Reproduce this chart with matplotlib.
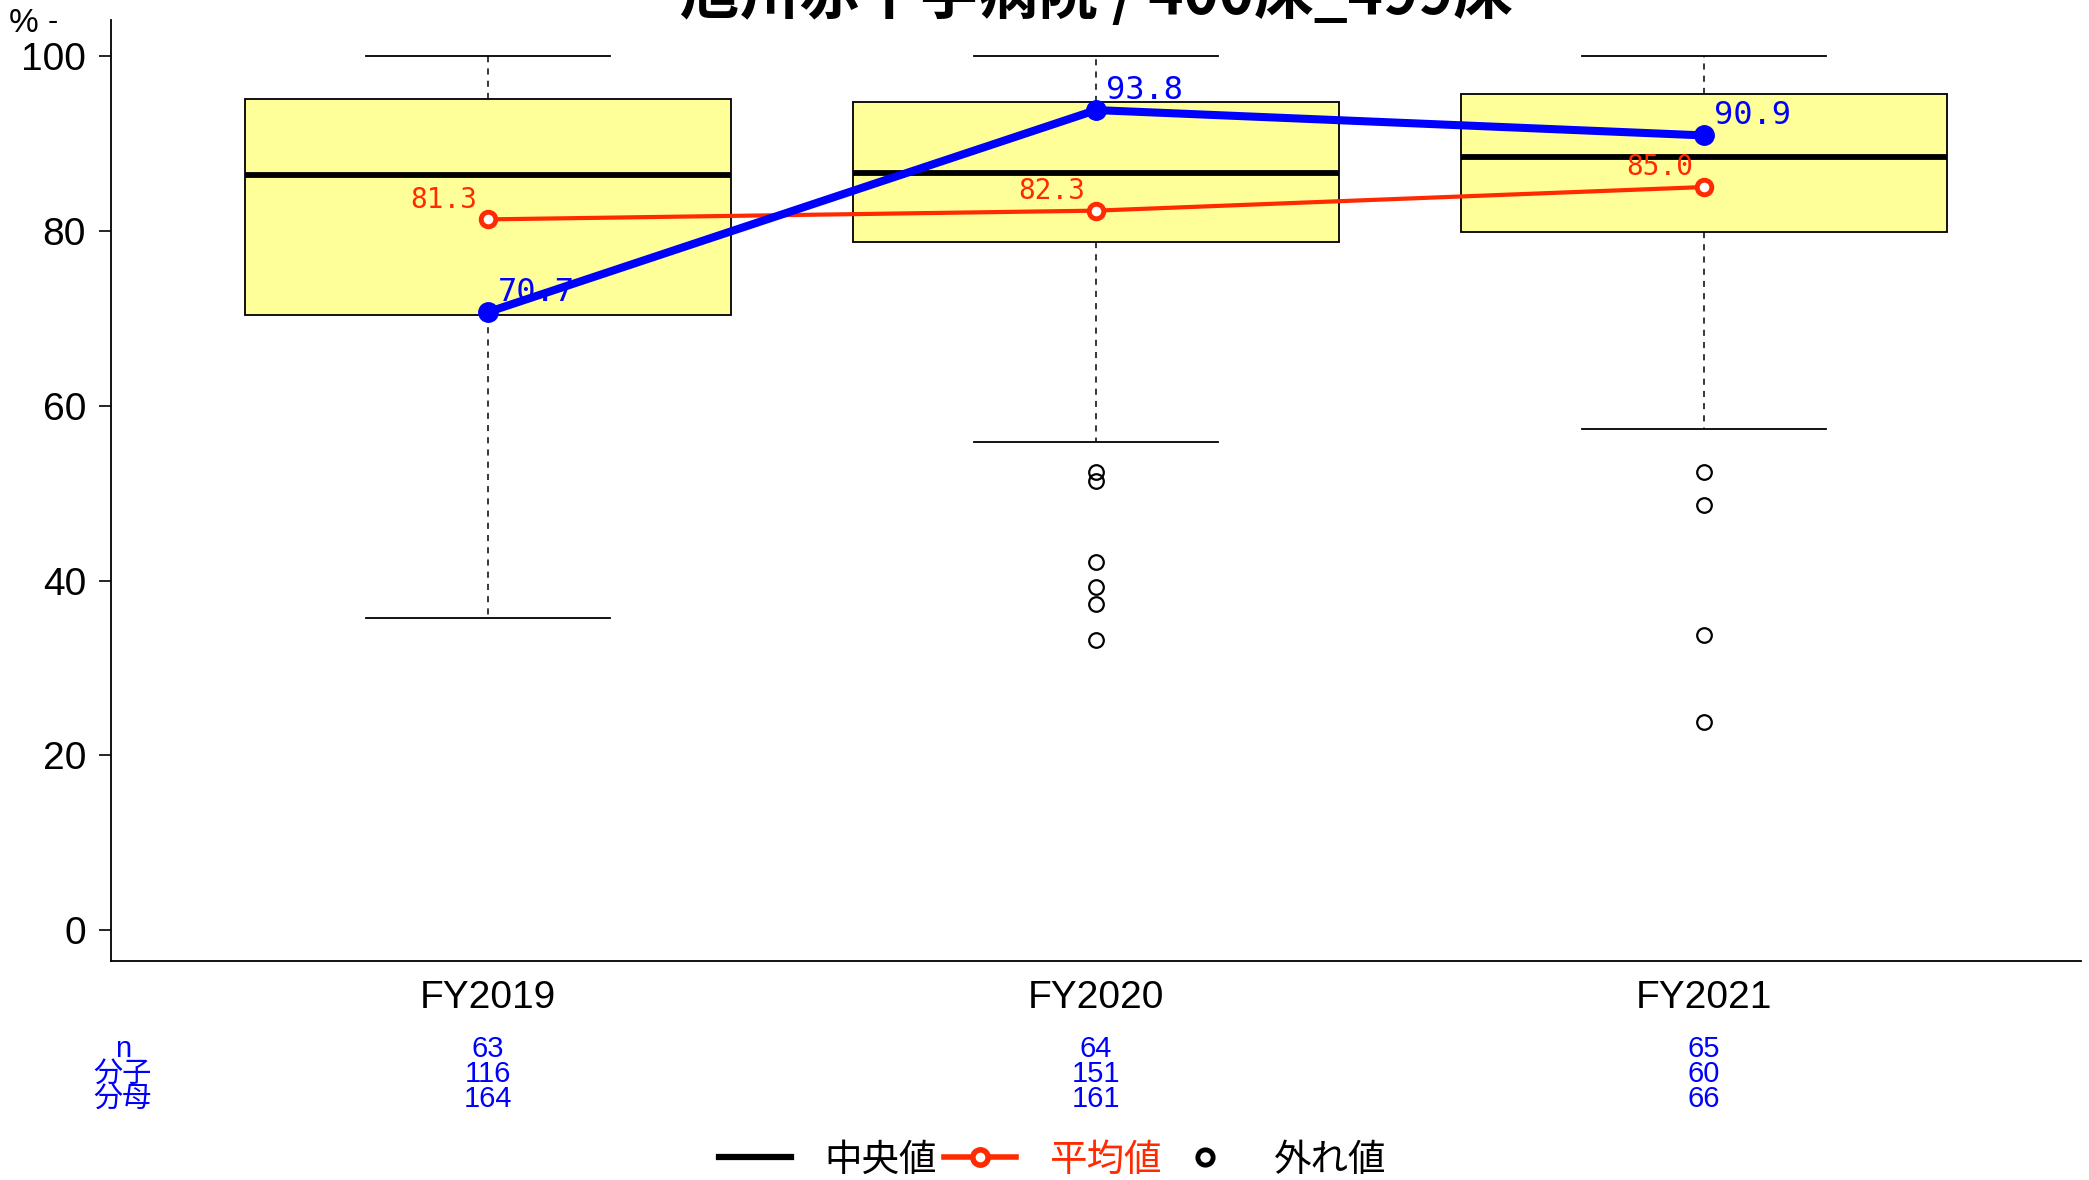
import matplotlib
matplotlib.use('Agg')
import matplotlib.pyplot as plt
from matplotlib.lines import Line2D
import matplotlib.transforms as mtransforms

plt.rcParams['font.family'] = ['Liberation Sans', 'Noto Sans CJK JP']

years = ['FY2019', 'FY2020', 'FY2021']
q1 = [70.4, 78.7, 79.9]
q3 = [95.1, 94.7, 95.6]
med = [86.4, 86.6, 88.4]
whislo = [35.7, 55.8, 57.3]
whishi = [100.0, 100.0, 100.0]
outliers = [[], [52.4, 51.4, 42.1, 39.3, 37.3, 33.2], [52.4, 48.6, 33.8, 23.8]]
mean_vals = [81.3, 82.3, 85.0]
hosp_vals = [70.7, 93.8, 90.9]
n_vals = [63, 64, 65]
numer = [116, 151, 60]
denom = [164, 161, 66]
row_labels = ['n', '分子', '分母']
title = '旭川赤十字病院 / 400床_499床'

red = '#FF2A00'
blue = '#0000FF'

fig = plt.figure(figsize=(20.89, 11.80), dpi=100)
ax = fig.add_axes([111/2089, 1-961/1180, 1970/2089, 941/1180])

pos = [1, 2, 3]
stats = []
for i in range(3):
    stats.append(dict(med=med[i], q1=q1[i], q3=q3[i], whislo=whislo[i],
                      whishi=whishi[i], fliers=outliers[i]))
ax.bxp(stats, positions=pos, widths=0.8, patch_artist=True, showfliers=True,
       boxprops=dict(facecolor='#FFFF99', edgecolor='black', linewidth=1.3),
       medianprops=dict(color='black', linewidth=4.2),
       whiskerprops=dict(color='black', linewidth=1.1, linestyle=(0, (4, 4))),
       capprops=dict(color='black', linewidth=1.3),
       capwidths=0.4,
       flierprops=dict(marker='o', markerfacecolor='none', markeredgecolor='black',
                       markersize=10.5, markeredgewidth=1.6))

# mean line
ax.plot(pos, mean_vals, color=red, linewidth=3, marker='o', markersize=10.5,
        markerfacecolor='white', markeredgecolor=red, markeredgewidth=3.5, zorder=5)
# hospital line
ax.plot(pos, hosp_vals, color=blue, linewidth=5.8, marker='o', markersize=14,
        zorder=6)

for x, v in zip(pos, mean_vals):
    ax.annotate(f'{v:.1f}', (x, v), xytext=(-8, 4), textcoords='offset points',
                ha='right', va='bottom', color=red, fontsize=20,
                family='DejaVu Sans Mono', zorder=7)
for x, v in zip(pos, hosp_vals):
    ax.annotate(f'{v:.1f}', (x, v), xytext=(7, 3), textcoords='offset points',
                ha='left', va='bottom', color=blue, fontsize=23,
                family='DejaVu Sans Mono', zorder=7)

ax.set_xlim(0.38, 3.62)
ax.set_ylim(-3.5, 104.1)
ax.set_xticks(pos)
ax.set_xticklabels(years)
ax.set_yticks([0, 20, 40, 60, 80, 100])
ax.tick_params(axis='x', length=0, pad=14, labelsize=28)
ax.tick_params(axis='y', length=9, width=1.2, pad=9, labelsize=28)
ax.spines['top'].set_visible(False)
ax.spines['right'].set_visible(False)
ax.spines['left'].set_linewidth(1.3)
ax.spines['bottom'].set_linewidth(1.3)

# n / numerator / denominator rows
trans = mtransforms.blended_transform_factory(ax.transData, ax.transAxes)
row_y = [-0.0935, -0.120, -0.1467]
for vals, yy in zip([n_vals, numer, denom], row_y):
    for x, v in zip(pos, vals):
        ax.text(x, yy, str(v), transform=trans, ha='center', va='center',
                color=blue, fontsize=21, clip_on=False)
for lab, yy in zip(row_labels, row_y):
    ax.text(0.006, yy, lab, transform=ax.transAxes, ha='center', va='center',
            color=blue, fontsize=21, clip_on=False)

fig.text(24/2089, 1-24/1180, '%', ha='center', va='center', fontsize=24)
fig.text(53/2089, 1-22/1180, '-', ha='center', va='center', fontsize=22)

fig.text(1096/2089, 1-27/1180, title, ha='center', va='bottom', fontsize=43,
         family=['Noto Sans CJK JP'], weight='bold')

handles = [
    Line2D([], [], color='black', linewidth=4.5),
    Line2D([], [], color=red, linewidth=4, marker='o', markersize=11,
           markerfacecolor='white', markeredgecolor=red, markeredgewidth=4),
    Line2D([], [], color='none', marker='o', markersize=11,
           markerfacecolor='none', markeredgecolor='black', markeredgewidth=3.5),
]
fig.legend(handles, ['中央値', '平均値', '外れ値'], loc='center',
           bbox_to_anchor=(1053/2089, 1-1160/1180), ncol=3, frameon=False,
           handlelength=1.9, handletextpad=0.9, columnspacing=0.2,
           labelcolor=['black', red, 'black'], prop={'family': 'Noto Sans CJK JP', 'size': 27})

fig.savefig('out.png', dpi=100)
